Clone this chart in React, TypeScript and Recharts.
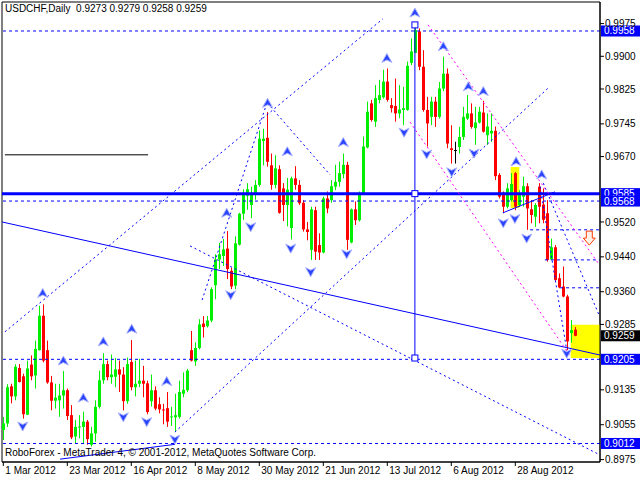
import React from "react";
import {
  ComposedChart,
  Bar,
  Scatter,
  XAxis,
  YAxis,
  ReferenceLine,
  ReferenceArea,
  ReferenceDot,
} from "recharts";

const FONT = "'Liberation Sans', Arial, sans-serif";
const UP = "#00ee00";
const DOWN = "#ff0000";
const BLUE = "#0000ff";
const MAGENTA = "#ff00ff";

// visible window, in bar index and price
const X_MIN = -0.325;
const X_MAX = 149.175;
const Y_MIN = 0.89695;
const Y_MAX = 1.00245;

const DATE_TICKS = [0, 16, 32, 48, 64, 80, 96, 112, 128];
const DATE_LABELS = [
  "1 Mar 2012", "23 Mar 2012", "16 Apr 2012", "8 May 2012", "30 May 2012",
  "21 Jun 2012", "13 Jul 2012", "6 Aug 2012", "28 Aug 2012",
];
// 0.9585 and 0.9205 sit under the level tags
const PRICE_TICKS = [
  0.9975, 0.99, 0.9825, 0.9745, 0.967, 0.952, 0.944, 0.936,
  0.9285, 0.9135, 0.9055, 0.8975,
];

// USDCHF daily bars
const OPEN = [
  0.9043, 0.9058, 0.9143, 0.9120, 0.9185, 0.9166, 0.9078, 0.9193, 0.9168, 0.9226,
  0.9305, 0.9226, 0.9152, 0.9110, 0.9111, 0.9122, 0.9134, 0.9077, 0.9028, 0.9049,
  0.9050, 0.9062, 0.9009, 0.9035, 0.9096, 0.9157, 0.9194, 0.9164, 0.9165, 0.9182,
  0.9170, 0.9109, 0.9199, 0.9141, 0.9149, 0.9156, 0.9150, 0.9109, 0.9134, 0.9102,
  0.9090, 0.9093, 0.9073, 0.9072, 0.9073, 0.9126, 0.9134, 0.9226, 0.9200, 0.9231,
  0.9287, 0.9281, 0.9294, 0.9375, 0.9434, 0.9442, 0.9459, 0.9408, 0.9374, 0.9468,
  0.9539, 0.9580, 0.9559, 0.9582, 0.9605, 0.9706, 0.9713, 0.9650, 0.9605, 0.9641,
  0.9597, 0.9559, 0.9506, 0.9620, 0.9605, 0.9564, 0.9503, 0.9456, 0.9547, 0.9467,
  0.9450, 0.9574, 0.9570, 0.9601, 0.9612, 0.9630, 0.9651, 0.9473, 0.9549, 0.9524,
  0.9586, 0.9691, 0.9792, 0.9750, 0.9800, 0.9806, 0.9842, 0.9788, 0.9786, 0.9769,
  0.9777, 0.9777, 0.9885, 0.9908, 0.9957, 0.9876, 0.9777, 0.9761, 0.9796, 0.9761,
  0.9826, 0.9860, 0.9689, 0.9685, 0.9692, 0.9715, 0.9757, 0.9769, 0.9735, 0.9748,
  0.9771, 0.9719, 0.9723, 0.9729, 0.9628, 0.9587, 0.9555, 0.9570, 0.9632, 0.9559,
  0.9578, 0.9602, 0.9549, 0.9532, 0.9601, 0.9560, 0.9540, 0.9434, 0.9462, 0.9391,
  0.9372, 0.9349, 0.9265, 0.9273,
];
const HIGH = [
  0.9073, 0.9148, 0.9149, 0.9194, 0.9194, 0.9172, 0.9202, 0.9214, 0.9248, 0.9328,
  0.9331, 0.9248, 0.9167, 0.9149, 0.9149, 0.9178, 0.9138, 0.9100, 0.9066, 0.9077,
  0.9085, 0.9066, 0.9050, 0.9111, 0.9179, 0.9219, 0.9202, 0.9216, 0.9208, 0.9202,
  0.9187, 0.9209, 0.9249, 0.9202, 0.9206, 0.9190, 0.9156, 0.9170, 0.9143, 0.9118,
  0.9103, 0.9130, 0.9096, 0.9126, 0.9156, 0.9175, 0.9183, 0.9270, 0.9244, 0.9297,
  0.9304, 0.9304, 0.9370, 0.9446, 0.9472, 0.9481, 0.9499, 0.9415, 0.9487, 0.9541,
  0.9595, 0.9609, 0.9601, 0.9616, 0.9730, 0.9734, 0.9772, 0.9677, 0.9673, 0.9650,
  0.9609, 0.9621, 0.9624, 0.9648, 0.9616, 0.9570, 0.9520, 0.9555, 0.9555, 0.9494,
  0.9578, 0.9590, 0.9616, 0.9651, 0.9658, 0.9677, 0.9658, 0.9551, 0.9567, 0.9590,
  0.9716, 0.9796, 0.9800, 0.9834, 0.9846, 0.9869, 0.9872, 0.9804, 0.9849, 0.9834,
  0.9830, 0.9888, 0.9941, 0.9972, 0.9964, 0.9914, 0.9807, 0.9807, 0.9807, 0.9841,
  0.9899, 0.9872, 0.9742, 0.9704, 0.9738, 0.9784, 0.9811, 0.9792, 0.9784, 0.9784,
  0.9798, 0.9769, 0.9769, 0.9739, 0.9632, 0.9590, 0.9609, 0.9632, 0.9635, 0.9593,
  0.9624, 0.9609, 0.9570, 0.9563, 0.9609, 0.9597, 0.9570, 0.9482, 0.9467, 0.9402,
  0.9418, 0.9353, 0.9295, 0.9279,
];
const LOW = [
  0.9020, 0.9050, 0.9104, 0.9111, 0.9152, 0.9069, 0.9077, 0.9157, 0.9138, 0.9225,
  0.9198, 0.9149, 0.9088, 0.9092, 0.9073, 0.9092, 0.9066, 0.9022, 0.9013, 0.9024,
  0.9013, 0.9009, 0.9005, 0.9016, 0.9092, 0.9149, 0.9157, 0.9149, 0.9141, 0.9130,
  0.9088, 0.9103, 0.9134, 0.9120, 0.9141, 0.9118, 0.9079, 0.9097, 0.9088, 0.9081,
  0.9056, 0.9050, 0.9052, 0.9039, 0.9069, 0.9118, 0.9130, 0.9200, 0.9190, 0.9228,
  0.9255, 0.9278, 0.9290, 0.9343, 0.9412, 0.9419, 0.9389, 0.9366, 0.9366, 0.9466,
  0.9525, 0.9548, 0.9529, 0.9571, 0.9601, 0.9650, 0.9647, 0.9594, 0.9597, 0.9539,
  0.9522, 0.9510, 0.9480, 0.9594, 0.9559, 0.9498, 0.9478, 0.9433, 0.9433, 0.9433,
  0.9448, 0.9540, 0.9564, 0.9593, 0.9601, 0.9620, 0.9456, 0.9471, 0.9513, 0.9521,
  0.9582, 0.9689, 0.9750, 0.9738, 0.9792, 0.9803, 0.9796, 0.9771, 0.9750, 0.9758,
  0.9742, 0.9775, 0.9880, 0.9907, 0.9868, 0.9773, 0.9693, 0.9742, 0.9738, 0.9757,
  0.9820, 0.9689, 0.9654, 0.9654, 0.9677, 0.9708, 0.9754, 0.9734, 0.9697, 0.9746,
  0.9725, 0.9697, 0.9704, 0.9616, 0.9574, 0.9540, 0.9551, 0.9567, 0.9547, 0.9555,
  0.9555, 0.9502, 0.9517, 0.9509, 0.9517, 0.9517, 0.9429, 0.9433, 0.9385, 0.9368,
  0.9347, 0.9226, 0.9243, 0.9258,
];
const CLOSE = [
  0.9058, 0.9141, 0.9120, 0.9188, 0.9153, 0.9079, 0.9184, 0.9166, 0.9229, 0.9305,
  0.9202, 0.9152, 0.9110, 0.9117, 0.9122, 0.9134, 0.9075, 0.9026, 0.9050, 0.9051,
  0.9062, 0.9022, 0.9035, 0.9096, 0.9157, 0.9194, 0.9164, 0.9170, 0.9182, 0.9170,
  0.9109, 0.9194, 0.9141, 0.9149, 0.9156, 0.9149, 0.9084, 0.9134, 0.9092, 0.9090,
  0.9088, 0.9062, 0.9074, 0.9077, 0.9130, 0.9135, 0.9179, 0.9202, 0.9231, 0.9285,
  0.9279, 0.9294, 0.9366, 0.9434, 0.9446, 0.9457, 0.9412, 0.9372, 0.9471, 0.9539,
  0.9586, 0.9595, 0.9586, 0.9605, 0.9711, 0.9711, 0.9658, 0.9605, 0.9643, 0.9541,
  0.9559, 0.9594, 0.9620, 0.9605, 0.9563, 0.9503, 0.9497, 0.9549, 0.9452, 0.9450,
  0.9574, 0.9551, 0.9602, 0.9612, 0.9632, 0.9651, 0.9479, 0.9549, 0.9524, 0.9587,
  0.9693, 0.9773, 0.9754, 0.9804, 0.9811, 0.9842, 0.9800, 0.9781, 0.9769, 0.9778,
  0.9781, 0.9878, 0.9911, 0.9960, 0.9876, 0.9777, 0.9746, 0.9796, 0.9761, 0.9826,
  0.9860, 0.9700, 0.9685, 0.9685, 0.9715, 0.9761, 0.9769, 0.9738, 0.9748, 0.9773,
  0.9727, 0.9739, 0.9729, 0.9625, 0.9578, 0.9555, 0.9597, 0.9607, 0.9555, 0.9586,
  0.9602, 0.9551, 0.9536, 0.9559, 0.9555, 0.9525, 0.9433, 0.9462, 0.9387, 0.9370,
  0.9349, 0.9246, 0.9272, 0.9259,
];

// drawing objects (bar index / price)
const PIVOT = 0.9585;
const DASHED_LEVELS = [0.9958, 0.9568, 0.9205, 0.9012];
const BLUE_TAGS = [0.9958, 0.9585, 0.9568, 0.9205, 0.9012];
const SHORT_LEVELS = [
  { from: 131.7, p: 0.9502 },
  { from: 135.4, p: 0.9433 },
  { from: 139.2, p: 0.9369 },
];
const SOLID_LINES = [
  { x1: -0.3, y1: 0.952, x2: 149.1, y2: 0.9215 },
  { x1: 14.2, y1: 0.8976, x2: 42.9, y2: 0.901 },
  { x1: 124.9, y1: 0.9541, x2: 137.9, y2: 0.9589 },
];
const DASHED_LINES = [
  { x1: 0.4, y1: 0.9268, x2: 94.9, y2: 0.9986 },
  { x1: 42.9, y1: 0.9038, x2: 136.2, y2: 0.9827 },
  { x1: 46.7, y1: 0.9465, x2: 149.1, y2: 0.8986 },
  { x1: 49.7, y1: 0.9341, x2: 65.9, y2: 0.9793 },
  { x1: 66.0, y1: 0.9793, x2: 81.7, y2: 0.9628 },
  { x1: 135.0, y1: 0.9609, x2: 149.1, y2: 0.9303 },
  { x1: 134.2, y1: 0.9601, x2: 140.85, y2: 0.9226 },
];
const MAGENTA_LINES = [
  { x1: 106.2, y1: 0.9972, x2: 149.1, y2: 0.9421 },
  { x1: 101.7, y1: 0.9749, x2: 141.7, y2: 0.9213 },
];
const BLACK_LEVEL = { x1: 0.4, x2: 36.2, p: 0.9674 };
const VERTICAL = { i: 102.9, top: 0.9972, bottom: 0.9208 };
const HIGHLIGHTS = [
  { x1: 126.85, x2: 129.0, y1: 0.9552, y2: 0.9646 },
  { x1: 141.85, x2: 149.175, y1: 0.9208, y2: 0.9284 },
];
const UP_ARROWS = [
  { i: 9.85, p: 0.9356 }, { i: 15.0, p: 0.9201 }, { i: 20.0, p: 0.9116 },
  { i: 25.0, p: 0.9245 }, { i: 32.1, p: 0.9274 }, { i: 40.85, p: 0.9154 },
  { i: 55.85, p: 0.954 }, { i: 66.07, p: 0.9792 }, { i: 71.0, p: 0.9681 },
  { i: 85.0, p: 0.9702 }, { i: 95.9, p: 0.9895 }, { i: 102.9, p: 0.9999 },
  { i: 110.0, p: 0.9922 }, { i: 116.25, p: 0.983 }, { i: 120.0, p: 0.9819 },
  { i: 128.2, p: 0.9658 }, { i: 134.6, p: 0.9628 },
];
const DOWN_ARROWS = [
  { i: 4.85, p: 0.9052 }, { i: 30.0, p: 0.9073 }, { i: 35.85, p: 0.9062 },
  { i: 42.9, p: 0.9022 }, { i: 56.85, p: 0.9353 }, { i: 61.85, p: 0.9509 },
  { i: 71.85, p: 0.946 }, { i: 76.85, p: 0.9406 }, { i: 85.85, p: 0.9447 },
  { i: 100.2, p: 0.9726 }, { i: 105.85, p: 0.9676 }, { i: 112.1, p: 0.9635 },
  { i: 117.7, p: 0.9678 }, { i: 125.0, p: 0.9518 }, { i: 127.9, p: 0.9528 },
  { i: 130.85, p: 0.9483 }, { i: 140.85, p: 0.9219 },
];
const SELL_ARROW = [{ i: 146.5, p: 0.9483 }];

const candles = OPEN.map((o, i) => ({
  i,
  o,
  h: HIGH[i],
  l: LOW[i],
  c: CLOSE[i],
  range: [LOW[i], HIGH[i]],
}));

function Candle(props: any) {
  const { x, y, width, height, payload } = props;
  if (x == null || y == null) return null;
  const { o, h, l, c } = payload;
  const top = Math.min(y, y + height);
  const span = Math.abs(height);
  const k = h === l ? 0 : span / (h - l);
  const yo = top + (h - o) * k;
  const yc = top + (h - c) * k;
  const color = c > o ? UP : c < o ? DOWN : "#000";
  const px = Math.round(x + width / 2 - 0.5);
  const b1 = Math.min(yo, yc);
  const b2 = Math.max(yo, yc);
  return (
    <g>
      <line x1={px + 0.5} x2={px + 0.5} y1={top} y2={top + span} stroke={color} />
      <rect x={px - 1} y={b1} width={3} height={Math.max(1, b2 - b1)} fill={color} />
    </g>
  );
}

function UpArrow(props: any) {
  const { cx, cy } = props;
  return (
    <path
      d={`M${cx},${cy - 5} L${cx + 5},${cy + 4} L${cx},${cy + 1.5} L${cx - 5},${cy + 4} Z`}
      fill="#2b45ff"
      stroke="#aab2ff"
    />
  );
}

function DownArrow(props: any) {
  const { cx, cy } = props;
  return (
    <path
      d={`M${cx},${cy + 5} L${cx + 5},${cy - 4} L${cx},${cy - 1.5} L${cx - 5},${cy - 4} Z`}
      fill="#2b45ff"
      stroke="#aab2ff"
    />
  );
}

function SellArrow(props: any) {
  const { cx, cy } = props;
  return (
    <path
      d={`M${cx - 3},${cy - 7} L${cx + 3},${cy - 7} L${cx + 3},${cy} L${cx + 6},${cy} L${cx},${cy + 7} L${cx - 6},${cy} L${cx - 3},${cy} Z`}
      fill="#fff0e8"
      stroke="#ff3c00"
    />
  );
}

function Marker(props: any) {
  const { cx, cy } = props;
  return <rect x={cx - 3} y={cy - 3} width={6} height={6} fill="#fff" stroke={BLUE} />;
}

function tagShape(bg: string, value: number) {
  return (props: any) => {
    const { cx, cy } = props;
    return (
      <g>
        <rect x={cx + 1} y={cy - 5.5} width={39} height={11} fill={bg} />
        <text x={cx + 4} y={cy + 3.5} fill="#fff" fontSize={10} fontFamily={FONT}>
          {value.toFixed(4)}
        </text>
      </g>
    );
  };
}

function DateTick(props: any) {
  const { x, y, payload } = props;
  const label = DATE_LABELS[DATE_TICKS.indexOf(payload.value)];
  return (
    <text x={x + 2} y={y + 6} fontSize={10} fontFamily={FONT} fill="#000">
      {label}
    </text>
  );
}

export default function App() {
  const last = OPEN.length - 1;
  const header = `USDCHF,Daily  ${OPEN[last].toFixed(4)} ${HIGH[last].toFixed(4)} ${LOW[last].toFixed(4)} ${CLOSE[last].toFixed(4)}`;
  return (
    <div style={{ position: "absolute", left: 0, top: 0, width: 640, height: 480, background: "#fff" }}>
      <ComposedChart
        width={640}
        height={480}
        data={candles}
        margin={{ top: 2, right: 0, bottom: 0, left: 2 }}
      >
        <XAxis
          dataKey="i"
          type="number"
          domain={[X_MIN, X_MAX]}
          allowDataOverflow
          ticks={DATE_TICKS}
          interval={0}
          height={18}
          tickSize={4}
          tickMargin={2}
          tick={<DateTick />}
          axisLine={{ stroke: "#000" }}
          tickLine={{ stroke: "#000" }}
        />
        <YAxis
          orientation="right"
          type="number"
          domain={[Y_MIN, Y_MAX]}
          allowDataOverflow
          ticks={PRICE_TICKS}
          interval={0}
          width={40}
          tickSize={4}
          tickMargin={1}
          tickFormatter={(v: number) => v.toFixed(4)}
          tick={{ fontSize: 10, fill: "#000", fontFamily: FONT }}
          axisLine={{ stroke: "#000" }}
          tickLine={{ stroke: "#000" }}
        />
        <ReferenceArea
          x1={X_MIN}
          x2={X_MAX}
          y1={Y_MIN}
          y2={Y_MAX}
          fill="none"
          stroke="#000"
          fillOpacity={0}
        />
        {HIGHLIGHTS.map((r, n) => (
          <ReferenceArea
            key={`hl${n}`}
            x1={r.x1}
            x2={r.x2}
            y1={r.y1}
            y2={r.y2}
            fill="#ffff00"
            fillOpacity={1}
            stroke="none"
          />
        ))}
        <Bar dataKey="range" barSize={3} shape={<Candle />} isAnimationActive={false} />

        <ReferenceLine y={PIVOT} stroke={BLUE} strokeWidth={3} />
        {DASHED_LEVELS.map((p) => (
          <ReferenceLine key={`lv${p}`} y={p} stroke={BLUE} strokeDasharray="3 3" />
        ))}
        {SHORT_LEVELS.map((s) => (
          <ReferenceLine
            key={`sl${s.p}`}
            segment={[{ x: s.from, y: s.p }, { x: X_MAX, y: s.p }]}
            stroke={BLUE}
            strokeDasharray="3 3"
          />
        ))}
        {SOLID_LINES.map((l, n) => (
          <ReferenceLine
            key={`so${n}`}
            segment={[{ x: l.x1, y: l.y1 }, { x: l.x2, y: l.y2 }]}
            stroke={BLUE}
          />
        ))}
        {DASHED_LINES.map((l, n) => (
          <ReferenceLine
            key={`da${n}`}
            segment={[{ x: l.x1, y: l.y1 }, { x: l.x2, y: l.y2 }]}
            stroke={BLUE}
            strokeDasharray="2 3"
          />
        ))}
        {MAGENTA_LINES.map((l, n) => (
          <ReferenceLine
            key={`mg${n}`}
            segment={[{ x: l.x1, y: l.y1 }, { x: l.x2, y: l.y2 }]}
            stroke={MAGENTA}
            strokeDasharray="2 3"
          />
        ))}
        <ReferenceLine
          segment={[{ x: BLACK_LEVEL.x1, y: BLACK_LEVEL.p }, { x: BLACK_LEVEL.x2, y: BLACK_LEVEL.p }]}
          stroke="#000"
        />
        <ReferenceLine
          segment={[{ x: VERTICAL.i, y: VERTICAL.top }, { x: VERTICAL.i, y: VERTICAL.bottom }]}
          stroke={BLUE}
        />
        {[VERTICAL.top, PIVOT, VERTICAL.bottom].map((p) => (
          <ReferenceDot key={`mk${p}`} x={VERTICAL.i} y={p} shape={<Marker />} />
        ))}

        <Scatter data={UP_ARROWS} dataKey="p" shape={<UpArrow />} isAnimationActive={false} />
        <Scatter data={DOWN_ARROWS} dataKey="p" shape={<DownArrow />} isAnimationActive={false} />
        <Scatter data={SELL_ARROW} dataKey="p" shape={<SellArrow />} isAnimationActive={false} />

        {BLUE_TAGS.map((p) => (
          <ReferenceDot key={`tg${p}`} x={X_MAX} y={p} shape={tagShape(BLUE, p)} />
        ))}
        <ReferenceDot x={X_MAX} y={CLOSE[last]} shape={tagShape("#000", CLOSE[last])} />
      </ComposedChart>
      <div
        style={{
          position: "absolute",
          left: 5,
          top: 3,
          fontFamily: FONT,
          fontSize: 10,
          lineHeight: "12px",
          whiteSpace: "pre",
          color: "#000",
        }}
      >
        {header}
      </div>
      <div
        style={{
          position: "absolute",
          left: 5,
          top: 447,
          fontFamily: FONT,
          fontSize: 10,
          lineHeight: "12px",
          whiteSpace: "pre",
          color: "#000",
        }}
      >
        RoboForex - MetaTrader 4, © 2001-2012, MetaQuotes Software Corp.
      </div>
    </div>
  );
}
